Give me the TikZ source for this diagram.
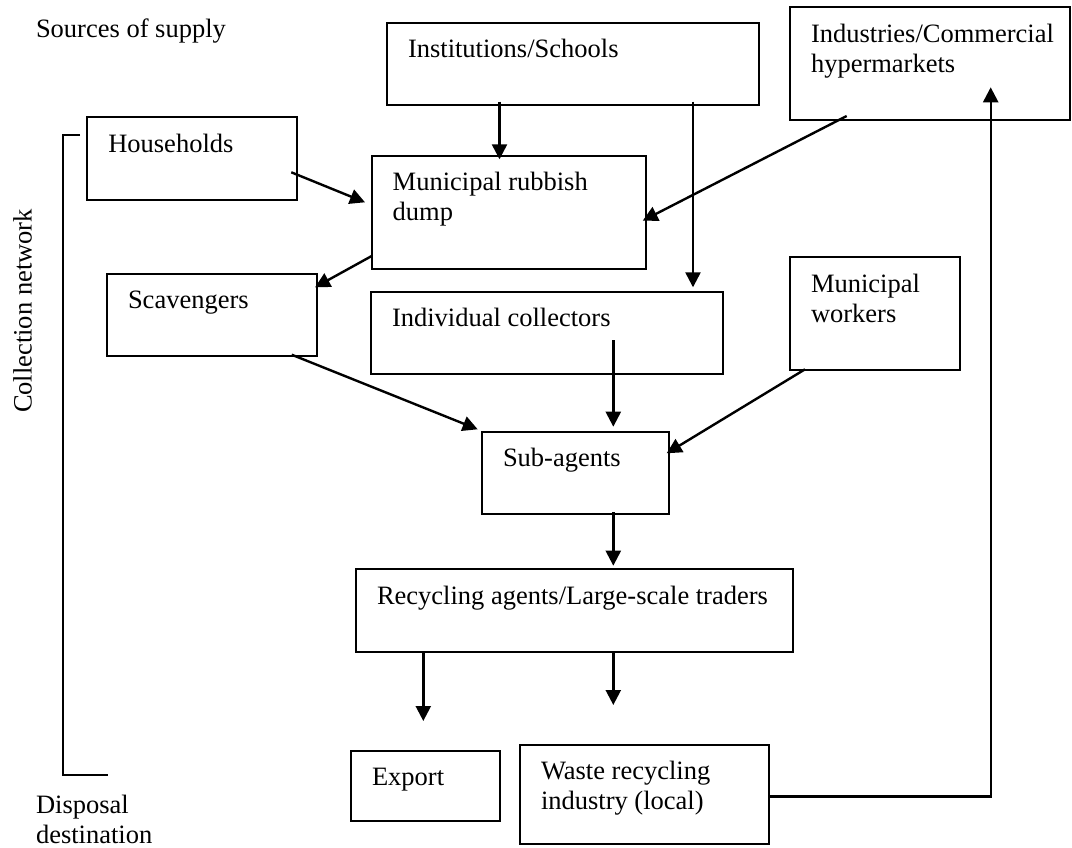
\documentclass[tikz,border=0pt]{standalone}
\usepackage{fontspec}
\setmainfont{Liberation Serif}
\usetikzlibrary{arrows.meta,calc}
\newcommand\bodyfont{\fontsize{26.5}{30}\selectfont}
\newcommand\boxstrut{\rule{0pt}{21pt}}
\begin{document}
\begin{tikzpicture}[x=1pt,y=-1pt,
  flowbox/.style={draw, line width=2.1pt, rectangle, inner sep=0pt, outer sep=0pt, anchor=north west},
  boxtext/.style={anchor=north west, inner sep=0pt, outer sep=0pt, align=left, font=\bodyfont},
  flow/.style={line width=2.4pt, -{Triangle[length=15pt,width=15pt]}},
  plaintext/.style={inner sep=0pt, outer sep=0pt, font=\bodyfont}]
\useasboundingbox (0,0) rectangle (1072,847);

% side captions
\node[plaintext, anchor=base west] (supply) at (36,37.7) {Sources of supply};
\node[plaintext, rotate=90, anchor=base] (network) at (31.5,311) {Collection network};
\node[boxtext] (disposal) at (36,792) {\boxstrut Disposal\\destination};
\draw[line width=2.1pt] (80,135.3) -| (62.7,775) -- (107.7,775);

% boxes
\node[flowbox, minimum width=372pt,   minimum height=82.6pt]  (inst)  at (387,22.7)  {};
\node[flowbox, minimum width=280pt,   minimum height=112.7pt] (ind)   at (790,7.3)   {};
\node[flowbox, minimum width=209.4pt, minimum height=83pt]    (hh)    at (87.3,117.3) {};
\node[flowbox, minimum width=274pt,   minimum height=113pt]   (dump)  at (371.7,155.7) {};
\node[flowbox, minimum width=209.7pt, minimum height=82.3pt]  (scav)  at (107,274)   {};
\node[flowbox, minimum width=351.7pt, minimum height=82.6pt]  (indiv) at (371,291.7) {};
\node[flowbox, minimum width=170pt,   minimum height=113pt]   (work)  at (790,257.3) {};
\node[flowbox, minimum width=187pt,   minimum height=82.6pt]  (sub)   at (482,431.7) {};
\node[flowbox, minimum width=437.3pt, minimum height=82.4pt]  (rec)   at (356,569.3) {};
\node[flowbox, minimum width=149pt,   minimum height=70pt]    (exp)   at (351,751)   {};
\node[flowbox, minimum width=249.3pt, minimum height=99pt]    (waste) at (520,745)   {};

% box texts
\node[boxtext] (inst-t)  at ($(inst.north west)+(21,13.7)$)  {\boxstrut Institutions/Schools};
\node[boxtext] (ind-t)   at ($(ind.north west)+(21,13.7)$)   {\boxstrut Industries/Commercial\\hypermarkets};
\node[boxtext] (hh-t)    at ($(hh.north west)+(21,13.7)$)    {\boxstrut Households};
\node[boxtext] (dump-t)  at ($(dump.north west)+(21,13.7)$)  {\boxstrut Municipal rubbish\\dump};
\node[boxtext] (scav-t)  at ($(scav.north west)+(21,13.7)$)  {\boxstrut Scavengers};
\node[boxtext] (indiv-t) at ($(indiv.north west)+(21,13.7)$) {\boxstrut Individual collectors};
\node[boxtext] (work-t)  at ($(work.north west)+(21,13.7)$)  {\boxstrut Municipal\\workers};
\node[boxtext] (sub-t)   at ($(sub.north west)+(21,13.7)$)   {\boxstrut Sub-agents};
\node[boxtext] (rec-t)   at ($(rec.north west)+(21,13.7)$)   {\boxstrut Recycling agents/Large-scale traders};
\node[boxtext] (exp-t)   at ($(exp.north west)+(21,13.7)$)   {\boxstrut Export};
\node[boxtext] (waste-t) at ($(waste.north west)+(21,13.7)$) {\boxstrut Waste recycling\\industry (local)};

% flows
\draw[flow] ($(inst.south west)+(112.5,-3.6)$) -- ($(dump.north west)+(127.8,3.6)$);
\draw[flow] ($(inst.south west)+(306,-3.6)$)   -- ($(indiv.north west)+(322,-4.4)$);
\draw[flow] ($(hh.north east)+(-5.4,55)$)      -- ($(dump.north west)+(-6.7,46.6)$);
\draw[flow] ($(ind.south west)+(56.7,-4)$)     -- ($(dump.north east)+(-3,65)$);
\draw[flow] ($(dump.south west)+(0,-12.7)$)    -- ($(scav.north east)+(-1.7,13.3)$);
\draw[flow] ($(scav.south east)+(-25,-1.6)$)   -- ($(sub.north west)+(-4.3,-2.4)$);
\draw[flow] ($(indiv.south west)+(242.3,-34.3)$) -- ($(sub.north west)+(131.3,-5)$);
\draw[flow] ($(work.south west)+(15,-1)$)      -- ($(sub.north east)+(-2.3,21.6)$);
\draw[flow] ($(sub.south west)+(131.3,-2)$)    -- ($(rec.north west)+(257.3,-3.6)$);
\draw[flow] ($(rec.south west)+(67.3,0)$)      -- ($(exp.north west)+(72.3,-30)$);
\draw[flow] ($(rec.south west)+(257.3,0)$)     -- ($(waste.north west)+(93.3,-40)$);
\draw[flow] ($(waste.south east)+(0,-47.7)$)   -| ($(ind.south west)+(200.7,-32.7)$);
\end{tikzpicture}
\end{document}
